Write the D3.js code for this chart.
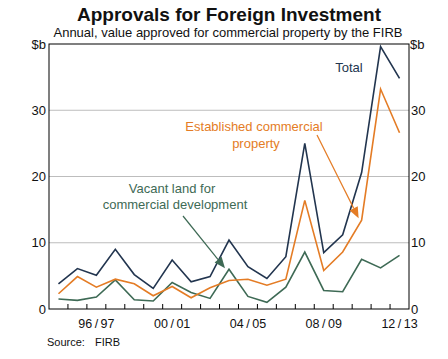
<!DOCTYPE html>
<html><head><meta charset="utf-8">
<script src="https://cdn.jsdelivr.net/npm/d3@7"></script>
<style>body{margin:0;background:#fff}svg{display:block}text{font-family:Arial,"Liberation Sans",sans-serif}</style>
</head><body><svg id="c" width="448" height="359"></svg>
<script>
const categories = ["94/95","95/96","96/97","97/98","98/99","99/00","00/01","01/02","02/03","03/04","04/05","05/06","06/07","07/08","08/09","09/10","10/11","11/12","12/13"];
const total =       [3.8, 6.1, 5.1, 9.0, 5.2, 3.1, 7.4, 4.1, 4.9, 10.4, 6.4, 4.6, 7.9, 25.0, 8.5, 11.2, 20.6, 39.6, 34.8];
const established = [2.3, 4.9, 3.3, 4.5, 3.8, 2.0, 3.4, 1.7, 3.2, 4.3, 4.5, 3.6, 4.5, 16.4, 5.8, 8.6, 13.4, 33.2, 26.6];
const vacant =      [1.5, 1.3, 1.8, 4.4, 1.4, 1.2, 4.0, 2.5, 1.6, 6.0, 1.9, 1.0, 3.3, 8.6, 2.8, 2.6, 7.5, 6.2, 8.1];
const xTickLabels = ["96/97","00/01","04/05","08/09","12/13"];
const yTicks = [0,10,20,30];

const svg = d3.select("#c");
const L = 49, R = 409, T = 44, B = 309;
const x = d3.scaleBand().domain(categories).range([L, R]).padding(0);
const y = d3.scaleLinear().domain([0, 40]).range([B, T]);
const cx = c => x(c) + x.bandwidth() / 2;

const NAVY = "#22354f", ORANGE = "#e47c25", GREEN = "#3e6a55";
const FF = "Arial, 'Liberation Sans', sans-serif";

// title
svg.append("text").attr("x", 229).attr("y", 21).attr("text-anchor", "middle")
  .attr("font-size", 19).attr("font-weight", "bold").attr("fill", "#111").text("Approvals for Foreign Investment");
svg.append("text").attr("x", 228).attr("y", 36.5).attr("text-anchor", "middle")
  .attr("font-size", 13).attr("fill", "#111").text("Annual, value approved for commercial property by the FIRB");

// gridlines
svg.append("g").selectAll("line").data(yTicks.filter(d => d > 0)).join("line")
  .attr("x1", L).attr("x2", R).attr("y1", d => y(d)).attr("y2", d => y(d))
  .attr("stroke", "#bdbdbd").attr("stroke-width", 1);

// y labels left & right
const yl = d3.axisLeft(y).tickValues(yTicks).tickSize(0).tickPadding(3);
const gl = svg.append("g").attr("transform", `translate(${L},0)`).call(yl);
gl.select(".domain").remove();
gl.selectAll("text").attr("font-size", 13).attr("fill", "#111").style("font-family", FF);
const yr = d3.axisRight(y).tickValues(yTicks).tickSize(0).tickPadding(2);
const gr = svg.append("g").attr("transform", `translate(${R},0)`).call(yr);
gr.select(".domain").remove();
gr.selectAll("text").attr("font-size", 13).attr("fill", "#111").style("font-family", FF);
svg.append("text").attr("x", L - 3).attr("y", y(40) + 5).attr("text-anchor", "end").attr("font-size", 13).attr("fill", "#111").text("$b");
svg.append("text").attr("x", R + 1).attr("y", y(40) + 5).attr("text-anchor", "start").attr("font-size", 13).attr("fill", "#111").text("$b");

// x ticks at year boundaries (pointing up)
svg.append("g").selectAll("line").data(categories.slice(1)).join("line")
  .attr("x1", d => x(d)).attr("x2", d => x(d)).attr("y1", B).attr("y2", B - 5)
  .attr("stroke", "#000").attr("stroke-width", 1);
svg.append("g").selectAll("text").data(xTickLabels).join("text")
  .attr("x", d => cx(d)).attr("y", B + 19).attr("text-anchor", "middle")
  .attr("font-size", 12.5).attr("fill", "#111").text(d => d.replace("/", "\u2009/\u2009"));

// lines
const line = arr => d3.line().x((d, i) => cx(categories[i])).y(d => y(d))(arr);
svg.append("path").attr("d", line(vacant)).attr("fill", "none").attr("stroke", GREEN).attr("stroke-width", 1.6);
svg.append("path").attr("d", line(established)).attr("fill", "none").attr("stroke", ORANGE).attr("stroke-width", 1.6);
svg.append("path").attr("d", line(total)).attr("fill", "none").attr("stroke", NAVY).attr("stroke-width", 1.6);

// border
svg.append("rect").attr("x", L).attr("y", T).attr("width", R - L).attr("height", B - T)
  .attr("fill", "none").attr("stroke", "#000").attr("stroke-width", 1);

// annotations
function arrow(x1, y1, x2, y2, col) {
  const a = Math.atan2(y2 - y1, x2 - x1), len = 11, w = 4.5;
  const bx = x2 - len * Math.cos(a), by = y2 - len * Math.sin(a);
  svg.append("line").attr("x1", x1).attr("y1", y1).attr("x2", bx).attr("y2", by).attr("stroke", col).attr("stroke-width", 1.2);
  const px = -Math.sin(a) * w, py = Math.cos(a) * w;
  svg.append("path").attr("d", `M${x2},${y2}L${bx + px},${by + py}L${bx - px},${by - py}Z`).attr("fill", col);
}
svg.append("text").attr("x", 349).attr("y", 72).attr("text-anchor", "middle").attr("font-size", 13).attr("fill", NAVY).text("Total");
svg.append("text").attr("x", 254).attr("y", 131).attr("text-anchor", "middle").attr("font-size", 13).attr("fill", ORANGE).text("Established commercial");
svg.append("text").attr("x", 256).attr("y", 148).attr("text-anchor", "middle").attr("font-size", 13).attr("fill", ORANGE).text("property");
arrow(317, 135, cx("10/11") - 3, y(established[16]) - 2, ORANGE);
svg.append("text").attr("x", 172).attr("y", 193).attr("text-anchor", "middle").attr("font-size", 13).attr("fill", GREEN).text("Vacant land for");
svg.append("text").attr("x", 175).attr("y", 209).attr("text-anchor", "middle").attr("font-size", 13).attr("fill", GREEN).text("commercial development");
arrow(183, 216, cx("03/04") - 4, y(vacant[9]) - 1, GREEN);

// source
svg.append("text").attr("x", 47).attr("y", 346).attr("font-size", 11).attr("fill", "#111").text("Source:");
svg.append("text").attr("x", 95).attr("y", 346).attr("font-size", 11).attr("fill", "#111").text("FIRB");
</script></body></html>
